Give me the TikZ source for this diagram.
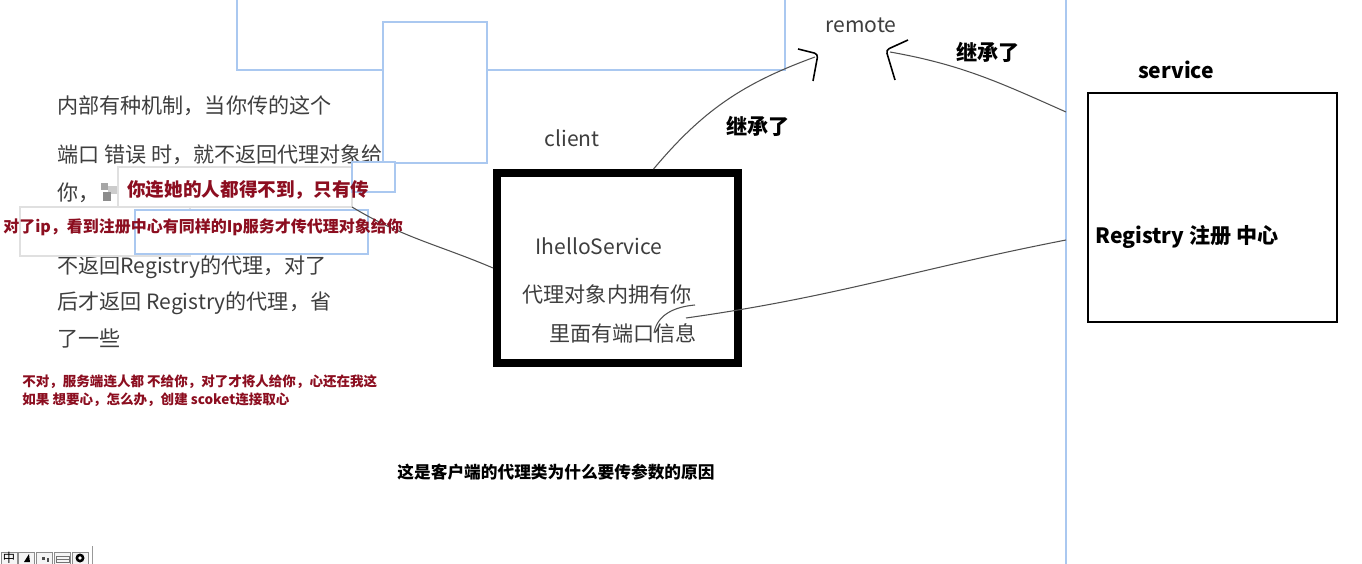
\documentclass[tikz,border=0pt]{standalone}
\usepackage{fontspec}
\setmainfont{Noto Sans CJK SC}
\usepackage{xcolor}
\definecolor{winblue}{RGB}{170,200,240}
\definecolor{notered}{RGB}{140,14,32}
\definecolor{penc}{RGB}{80,80,80}
\definecolor{textgray}{RGB}{62,62,62}

\begin{document}
\begin{tikzpicture}[x=0.02cm, y=-0.02cm,
  graytext/.style={text=textgray, font=\fontsize{12}{14}\selectfont, inner sep=0pt},
  boldtext/.style={text=black, font=\fontsize{12}{14}\selectfont\bfseries, inner sep=0pt},
  redtext/.style={text=notered, font=\fontsize{10.6}{12}\selectfont\bfseries, inner sep=0pt},
  win/.style={draw=winblue, fill=white, line width=0.8pt},
  notebox/.style={draw=black!12, fill=white, line width=0.6pt, inner sep=0pt, outer sep=0pt},
  pen/.style={draw=penc, line width=0.6pt},
  handtip/.style={draw=black, line width=0.9pt, rounded corners=2pt}]
\useasboundingbox (0,0) rectangle (1362,564);
\fill[white] (0,0) rectangle (1362,564);

%window frames
\draw[win] (237,-10) rectangle (785,70);
\draw[win] (383,22) rectangle (487,163);
\draw[winblue, line width=1pt] (1066,-5) -- (1066,570);

%left notes
\node[graytext, anchor=west] (para1) at (57,106) {内部有种机制，当你传的这个};
\node[graytext, anchor=west] (para2) at (57,155) {端口 错误 时，就不返回代理对象给};
\node[graytext, anchor=west] (para3) at (57,193) {你，};
\node[graytext, anchor=west] (para4) at (57,267) {不返回Registry的代理，对了};
\node[graytext, anchor=west] (para5) at (57,303) {后才返回 Registry的代理，省};
\node[graytext, anchor=west] (para6) at (57,338) {了一些};
\fill[black!35] (101,183) rectangle (108,190); \fill[black!20] (108,186) rectangle (117,194); \fill[black!45] (103,192) rectangle (111,201);

%client
\node[draw, line width=4.5pt, minimum width=4.82cm, minimum height=3.8cm] (client) at (617.5,268) {};
\node[graytext] (clientlbl) at (572,138) {client};
\node[graytext] (ihello) at (599,246) {IhelloService};
\node[graytext] (proxyone) at (607,294) {代理对象内拥有你};
\node[graytext] (proxytwo) at (623,333) {里面有端口信息};

%note boxes
\node[notebox, minimum width=4.68cm, minimum height=0.8cm] (boxone) at (235,187) {};
\draw[win] (352,162) rectangle (395,192);
\node[notebox, minimum width=3.4cm, minimum height=0.98cm] (boxtwo) at (105,231.5) {};
\draw[win] (135,210) rectangle (368,254);
\draw[pen] (boxone.south east) to [out=-31, in=157] (client.west);
\node[redtext, anchor=west] (redone) at (127,190) {你连她的人都得不到，只有传};
\node[redtext, anchor=west, font=\fontsize{9.1}{11}\selectfont\bfseries] (redtwo) at (3,227) {对了ip，看到注册中心有同样的Ip服务才传代理对象给你};
\node[redtext, anchor=west, font=\fontsize{7.7}{9}\selectfont\bfseries] (redthree) at (22,382) {不对，服务端连人都 不给你，对了才将人给你，心还在我这};
\node[redtext, anchor=west, font=\fontsize{7.7}{9}\selectfont\bfseries] (redfour) at (22,400) {如果 想要心，怎么办，创建 scoket连接取心};

%registry
\node[draw, line width=1.2pt, minimum width=4.98cm, minimum height=4.58cm] (registry) at (1212.5,207.5) {};
\node[boldtext] (servicelbl) at (1176,70) {service};
\node[boldtext, anchor=west] (reglbl) at (1095,237) {Registry 注册 中心};

%remote and inherit labels
\node[graytext] (remote) at (861,25) {remote};
\node[boldtext] (inheritr) at (988,52) {继承了};
\node[boldtext] (inheritl) at (758,126) {继承了};
\node[text=black, font=\fontsize{9.5}{11}\selectfont\bfseries, inner sep=0pt] (reason) at (556,472) {这是客户端的代理类为什么要传参数的原因};

%hand drawn lines
\coordinate (remtipl) at (815,57); \coordinate (remtipr) at (890,52);
\coordinate (edgeup) at (1066,112); \coordinate (edgelow) at (1066,240);
\coordinate (curlin) at (686,318); \coordinate (curla) at (695,305); \coordinate (curlb) at (654,333);
\draw[pen] (client.70) to [out=50, in=200] (remtipl);
\draw[pen] (edgeup) to [out=156, in=-10] (remtipr);
\draw[pen] (edgelow) to [out=191, in=8] (curlin);
\draw[pen] (curla) to [out=185, in=80] (curlb);
\draw[handtip] (798,49) -- (818,54) -- (813,81);
\draw[handtip] (908,40) -- (886,50) -- (895,80);

%taskbar
\draw[black!40] (92,546) -- (92,564);
\foreach \i in {0,...,4} \draw[black!45, fill=black!4] (\i*17.8+1,552) rectangle ++(16,12);
\node[inner sep=0pt, font=\fontsize{7}{8}\selectfont] (imezh) at (9,558) {中};
\fill[black] (24,562) -- (30,562) -- (29,554) -- cycle;
\fill[black!70] (42,557) rectangle ++(3,3); \fill[black!70] (47,558) rectangle ++(2,4);
\draw[black!55] (56,556) rectangle (69,562); \draw[black!55] (56,559) -- (69,559);
\fill[black] (80,558) circle (4.5); \fill[white] (80,558) circle (1.8);
\end{tikzpicture}
\end{document}
